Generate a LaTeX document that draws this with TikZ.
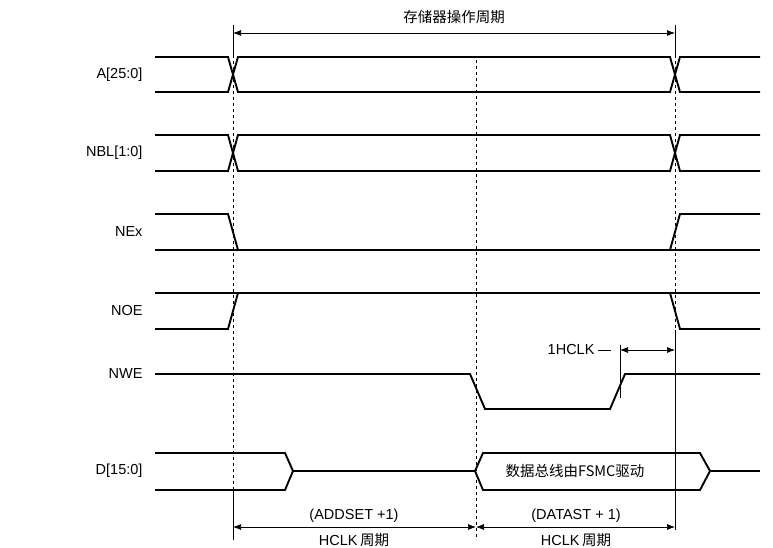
\documentclass[tikz,border=0pt]{standalone}
\usepackage{fontspec}
\setmainfont{Liberation Sans}
\newfontfamily\cjk{Noto Sans CJK SC}
\usetikzlibrary{arrows.meta}
\begin{document}
\begin{tikzpicture}[x=1pt,y=-1pt,font=\fontsize{14.5}{16}\selectfont,
  sig/.style={line width=1.9pt},
  guide/.style={dashed,line width=0.6pt},
  dim/.style={{Latex[length=8pt]}-{Latex[length=8pt]},line width=0.7pt},
  signame/.style={anchor=east}]
\useasboundingbox (0,0) rectangle (773,548);

% signal names
\node[signame] (la) at (146,75) {A[25:0]};
\node[signame] (lb) at (146,153) {NBL[1:0]};
\node[signame] (le) at (146,232) {NEx};
\node[signame] (lo) at (146,311) {NOE};
\node[signame] (lw) at (146,374) {NWE};
\node[signame] (ld) at (146,471) {D[15:0]};

% guides
\draw[guide] (233,55) -- (233,490);
\draw[guide] (476,60) -- (476,540);
\draw[guide] (675,55) -- (675,530);

% A and NBL
\foreach \hi/\lo in {57/92,135/171}{
  \draw[sig] (155,\hi) -- (228,\hi) -- (238,\lo) -- (670,\lo) -- (680,\hi) -- (760,\hi);
  \draw[sig] (155,\lo) -- (228,\lo) -- (238,\hi) -- (670,\hi) -- (680,\lo) -- (760,\lo);
}

% NEx
\draw[sig] (155,214) -- (228,214) -- (238,250);
\draw[sig] (155,250) -- (760,250);
\draw[sig] (670,250) -- (680,214) -- (760,214);

% NOE
\draw[sig] (155,293) -- (760,293);
\draw[sig] (155,329) -- (228,329) -- (238,293);
\draw[sig] (670,293) -- (680,329) -- (760,329);

% NWE
\draw[sig] (155,374) -- (470,374) -- (485,409) -- (610,409) -- (625,374) -- (760,374);

% D
\draw[sig] (155,453) -- (285,453) -- (293,471) -- (285,490) -- (155,490);
\draw[sig] (293,471) -- (475,471);
\draw[sig] (475,471) -- (483,453) -- (700,453) -- (710,471) -- (700,490) -- (483,490) -- cycle;
\draw[sig] (710,471) -- (760,471);
\node (bus) at (575,471) {\cjk 数据总线由FSMC驱动};

% operation period
\coordinate (ta) at (233,33);
\coordinate (tb) at (675,33);
\draw[line width=0.7pt] (233,25) -- (233,55) (675,25) -- (675,55);
\draw[dim] (ta) -- (tb);
\node (op) at (454,17) {\cjk 存储器操作周期};

% 1HCLK
\coordinate (ha) at (620,350);
\coordinate (hb) at (675,350);
\draw[line width=0.7pt] (620,345) -- (620,398);
\draw[dim] (ha) -- (hb);
\node[anchor=east] (hclk) at (598,350) {1HCLK};
\draw[line width=0.7pt] (hclk.east) -- (611,350);

% phases
\coordinate (pa) at (233,527);
\coordinate (pb) at (476,527);
\coordinate (pc) at (675,527);
\draw[line width=0.7pt] (233,490) -- (233,540) (675,330) -- (675,530);
\draw[dim] (pa) -- (pb);
\draw[dim] (pb) -- (pc);
\node (add) at (354,516) {(ADDSET +1)};
\node (adc) at (354,540) {HCLK\,{\cjk 周期}};
\node (dat) at (576,516) {(DATAST + 1)};
\node (dac) at (576,540) {HCLK\,{\cjk 周期}};
\end{tikzpicture}
\end{document}
